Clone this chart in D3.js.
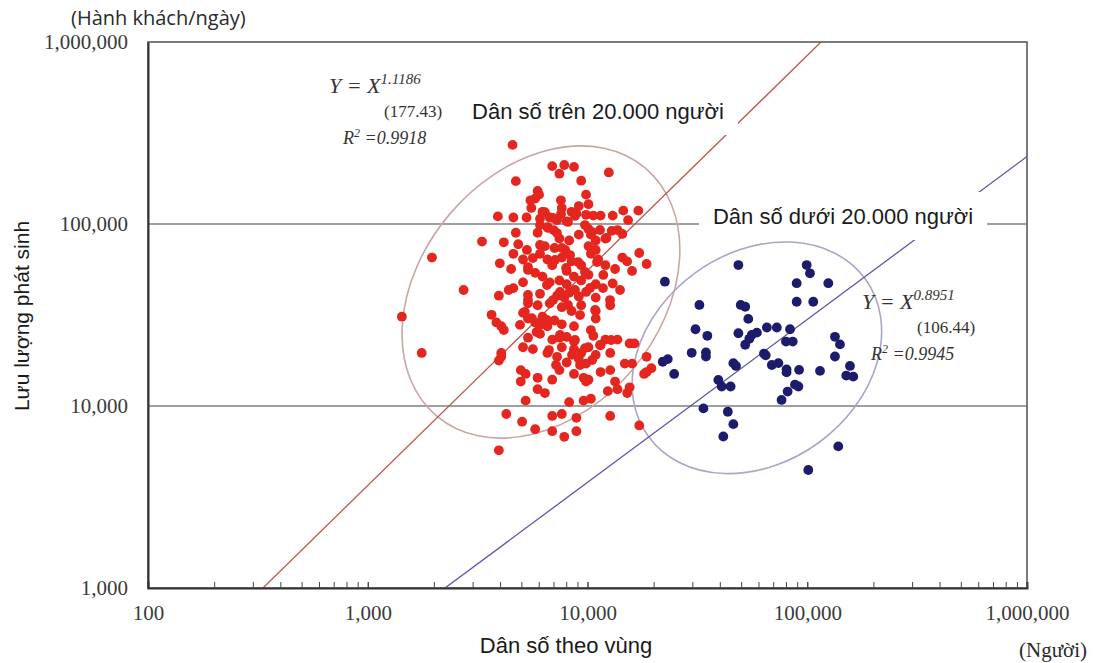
<!DOCTYPE html>
<html><head><meta charset="utf-8">
<script src="https://cdn.jsdelivr.net/npm/d3@7"></script>
<style>
html,body{margin:0;padding:0;background:#fff;}
svg{display:block;}
</style></head><body>
<svg id="chart" width="1096" height="663"></svg>
<script>
// Areas with population above 20,000: [population, trips per day]
const over20kGroup = [
[4560,272000],[4720,172000],[6910,208000],[7840,211000],[8680,206000],[7450,189000],[9360,173000],[12500,192000],
[5930,152000],[5780,138000],[5500,135000],[6020,145000],[7570,135000],[7640,122500],[9130,125500],[9850,145000],[10100,128500],[5550,122500],[6240,116700],[8460,116700],[8900,114000],[11470,111200],[13020,111200],[14550,118400],[17030,118400],[3910,110100],[4600,108600],[5280,108600],[6080,107000],[6730,108600],[7270,105000],[8040,103500],[9850,112300],[10630,111200],[15300,105000],
[6080,98600],[6570,96200],[5930,89500],[7010,92600],[4720,89500],[4160,79300],[3310,80100],[4840,77400],[7450,83200],[8250,81200],[9130,87400],[10100,93900],[10360,87400],[10900,81200],[12060,83200],[12880,91700],[13690,92600],[14400,88200],[10100,75600],[10900,72000],[17200,69300],[18570,60300],[6400,75600],[7080,73800],[7920,72000],[5300,72000],[4600,68600],[5090,63800],[3990,60800],[1960,65400],
[6080,68600],[6570,63800],[6910,59400],[7640,65400],[8460,62300],[9360,59400],[8040,55200],[10360,68600],[11180,63800],[12060,59400],[13350,56600],[14400,65400],[15150,62300],[15950,55200],[4490,56600],[5360,58000],[5780,53900],[6240,51400],[6730,47800],[7450,48950],[8040,46650],[8680,51400],[9360,48950],[10100,52600],[10900,46650],[11760,44440],[13020,47100],[5090,47800],[4600,44440],[4380,43400],[2730,43400],
[3950,40360],[5360,40750],[6080,41350],[7270,40360],[7840,39400],[8250,41950],[9130,39970],[9850,42350],[10900,39400],[5360,36640],[5930,35770],[6730,36640],[7640,34910],[8460,33270],[9360,35770],[10900,33270],[12690,35770],[3660,31700],[3850,28780],[5090,32480],[5360,30210],[5780,28780],[6240,30950],[6570,27430],[7080,29490],[7640,28100],[8680,27430],[10900,30210],[10360,26140],[1430,30950],
[4050,27430],[4160,26140],[5360,23730],[6080,24900],[6910,23160],[7450,23730],[8040,23960],[8680,22610],[10630,24310],[12060,23160],[13690,23160],[15550,22070],[16350,22070],[5090,21030],[5640,20530],[6570,19560],[7640,21030],[8680,20530],[9360,19560],[10100,21030],[11470,21540],[12690,19560],[4050,19560],[3950,17760],[4050,18640],[7270,18640],[8040,17340],[9130,18200],[9850,17100],[10900,19100],[14780,17100],[15950,17100],[18570,18640],[19530,16130],[18570,15370],[1760,19560],
[4970,15750],[5230,15000],[5930,14290],[6910,13950],[7450,15750],[8680,15000],[9600,14290],[10100,13950],[11470,15370],[12690,15750],[4970,13620],[5930,12370],[6400,11780],[9850,13620],[13350,13620],[13690,12370],[12370,12070],[15550,12670],[18100,15000],[5230,10700],[8250,10500],[9600,10700],[10360,10960],[15150,11780],
[4270,9040],[5040,8200],[5780,7450],[6910,8820],[6910,7270],[7640,9040],[7840,6770],[8900,8610],[8900,7270],[12690,8820],[17200,7820],[3950,5710],
[6400,116000],[6970,108000],[7580,113500],[8150,102600],[8770,110700],[6610,95100],[7260,89200],[9740,98700],[10500,90300],[11400,92700],
[12200,83800],[7650,73800],[8330,67500],[9060,61800],[7990,57300],[7110,63400],[9740,54500],[10500,72000],[11050,61800],[11800,52500],
[6080,76700],[5640,65000],[5360,55900],[6540,46200],[7500,42300],[8770,43400],[10270,44500],[6970,38200],[8150,35900],[5190,32900],
[5580,30400],[6080,27900],[6540,29700],[5870,25500],[5360,38200],[4930,27900],[9250,31600],[10830,33700],[8770,23050],[9740,20800],
[8500,19100],[9250,16800],[10500,17900],[11400,21650],[12800,23050],[7500,24550],[6680,20300],[7190,16800],[12660,38200],[14060,43400]
];

// Areas with population below 20,000: [population, trips per day]
const under20kGroup = [
[22500,48200],[48600,59500],[99400,59500],[102900,53600],[89500,47300],[124700,47300],[89500,37400],[106500,37400],
[32300,35900],[49800,35900],[52200,35100],[53900,30100],[31000,26400],[35100,24300],[48600,25100],[55900,24600],
[59000,25300],[54500,23400],[52200,21700],[65500,27000],[72700,27000],[83500,26400],[80000,22600],[85900,22600],
[133700,24000],[140900,21800],[133700,18700],[29800,19600],[34600,19700],[34600,18700],[63500,19400],[64700,19000],
[46100,17200],[47400,16600],[22000,17500],[23200,18100],[24800,15000],[69000,16800],[73900,17200],[80500,15900],
[80500,15300],[91800,15800],[114300,15600],[156500,16600],[150500,14700],[162000,14500],[39400,13900],[40800,12800],
[44800,12800],[87900,13100],[91100,12800],[81400,12000],[76400,10800],[33700,9700],[43500,9300],[46100,7950],
[41500,6800],[138400,6000],[101100,4450]
];

// Power-law fit lines Y = c * X^k
const fitExponents = [1.1814, 0.8951];
const fitCoefficients = [1.045, 1.0];
// Centres of the group ellipses [population, trips]
const groupCentres = [[6140, 42300], [59000, 18400]];

const xTickValues = [100, 1000, 10000, 100000, 1000000];
const xTickLabels = ["100", "1,000", "10,000", "100,000", "1,000,000"];
const yTickValues = [1000, 10000, 100000, 1000000];
const yTickLabels = ["1,000", "10,000", "100,000", "1,000,000"];
const gridValues = [10000, 100000];
const groupLabels = ["Dân số trên 20.000 người", "Dân số dưới 20.000 người"];

const plot = {left: 148, right: 1027, top: 42, bottom: 588};
const x = d3.scaleLog().domain([100, 1e6]).range([plot.left, plot.right]);
const y = d3.scaleLog().domain([1e3, 1e6]).range([plot.bottom, plot.top]);

const svg = d3.select("#chart");
svg.append("rect").attr("width", 1096).attr("height", 663).attr("fill", "#fff");

svg.append("defs").append("clipPath").attr("id", "plotClip")
  .append("rect").attr("x", plot.left).attr("y", plot.top)
  .attr("width", plot.right - plot.left).attr("height", plot.bottom - plot.top);

// horizontal grid lines
svg.append("g").selectAll("line").data(gridValues).join("line")
  .attr("x1", plot.left).attr("x2", plot.right)
  .attr("y1", d => y(d)).attr("y2", d => y(d))
  .attr("stroke", "#7f7f7f").attr("stroke-width", 1.4);

// group ellipses
const ellipseShapes = [
  {rx: 162, ry: 120, rot: -50, stroke: "#c9a6a2"},
  {rx: 134, ry: 105, rot: -36, stroke: "#aaa6c6"}
];
svg.append("g").selectAll("ellipse").data(groupCentres).join("ellipse")
  .attr("cx", 0).attr("cy", 0)
  .attr("rx", (d, i) => ellipseShapes[i].rx).attr("ry", (d, i) => ellipseShapes[i].ry)
  .attr("transform", (d, i) => `translate(${x(d[0])},${y(d[1])}) rotate(${ellipseShapes[i].rot})`)
  .attr("fill", "none").attr("stroke", (d, i) => ellipseShapes[i].stroke).attr("stroke-width", 1.6);

// fit lines
const fitColors = ["#c0564e", "#5b57a8"];
const lineGen = d3.line().x(d => x(d[0])).y(d => y(d[1]));
svg.append("g").attr("clip-path", "url(#plotClip)").selectAll("path").data(fitExponents).join("path")
  .attr("d", (k, i) => lineGen([100, 1e6].map(p => [p, fitCoefficients[i] * Math.pow(p, k)])))
  .attr("fill", "none").attr("stroke", (d, i) => fitColors[i]).attr("stroke-width", 1.3);

// group labels on white boxes
const labelPos = [[598, 111], [843, 216]];
const labelG = svg.append("g");
groupLabels.forEach((t, i) => {
  const g = labelG.append("g");
  const box = g.append("rect").attr("fill", "#fff");
  const txt = g.append("text").attr("x", labelPos[i][0]).attr("y", labelPos[i][1])
    .attr("text-anchor", "middle").attr("dominant-baseline", "central")
    .attr("font-family", "Liberation Sans, Arial, sans-serif").attr("font-size", 22)
    .attr("fill", "#1a1a1a").text(t);
  const b = txt.node().getBBox();
  box.attr("x", b.x - 14).attr("y", labelPos[i][1] - 24)
     .attr("width", b.width + 28).attr("height", 48);
});

// regression equations
function equation(x0, yBase, expo, coef, r2, rOffset) {
  const g = svg.append("g").attr("fill", "#333").attr("font-family", "Liberation Serif, Times New Roman, serif");
  const t = g.append("text").attr("x", x0).attr("y", yBase).attr("font-style", "italic").attr("font-size", 22);
  t.append("tspan").text("Y = X");
  t.append("tspan").attr("font-size", 15).attr("dy", -9).text(expo);
  g.append("text").attr("x", x0 + 55).attr("y", yBase + 24).attr("font-size", 17).text(coef);
  const r = g.append("text").attr("x", x0 + rOffset).attr("y", yBase + 51).attr("font-style", "italic").attr("font-size", 18);
  r.append("tspan").text("R");
  r.append("tspan").attr("font-size", 12).attr("dy", -7).text("2");
  r.append("tspan").attr("dy", 7).text(" =" + r2);
}
equation(329, 93, "1.1186", "(177.43)", "0.9918", 14);
equation(862, 309, "0.8951", "(106.44)", "0.9945", 9);

// data points
svg.append("g").selectAll("circle").data(over20kGroup).join("circle")
  .attr("cx", d => x(d[0])).attr("cy", d => y(d[1])).attr("r", 4.9)
  .attr("fill", "#e4261f");
svg.append("g").selectAll("circle").data(under20kGroup).join("circle")
  .attr("cx", d => x(d[0])).attr("cy", d => y(d[1])).attr("r", 4.9)
  .attr("fill", "#1d1b6c");

// frame
svg.append("rect").attr("x", plot.left).attr("y", plot.top)
  .attr("width", plot.right - plot.left).attr("height", plot.bottom - plot.top)
  .attr("fill", "none").attr("stroke", "#5a5a5a").attr("stroke-width", 1.6);

// x axis: minor ticks inside, decade labels below
const minorTicks = [];
[100, 1000, 10000, 100000].forEach(d => { for (let m = 1; m <= 10; m++) minorTicks.push(d * m); });
svg.append("g").attr("transform", `translate(0,${plot.bottom})`)
  .call(d3.axisBottom(x).tickValues(minorTicks).tickSize(-6).tickFormat(""))
  .call(g => g.select(".domain").attr("stroke", "#333").attr("stroke-width", 2))
  .call(g => g.selectAll(".tick line").attr("stroke", "#444").attr("stroke-width", 1));

svg.append("g").attr("transform", `translate(0,${plot.bottom})`)
  .call(d3.axisBottom(x).tickValues(xTickValues).tickSize(0).tickPadding(17)
        .tickFormat((d, i) => xTickLabels[i]))
  .call(g => g.select(".domain").remove())
  .call(g => g.selectAll("text").attr("font-family", "Liberation Serif, Times New Roman, serif")
        .attr("font-size", 21).attr("fill", "#3a3a3a"));

// y axis labels
svg.append("g").attr("transform", `translate(${plot.left},0)`)
  .call(d3.axisLeft(y).tickValues(yTickValues).tickSize(0).tickPadding(20)
        .tickFormat((d, i) => yTickLabels[i]))
  .call(g => g.select(".domain").attr("stroke", "#333").attr("stroke-width", 2))
  .call(g => g.selectAll("text").attr("font-family", "Liberation Serif, Times New Roman, serif")
        .attr("font-size", 21).attr("fill", "#3a3a3a"));

// axis titles and units
svg.append("text").attr("x", 566).attr("y", 653).attr("text-anchor", "middle")
  .attr("font-family", "Liberation Sans, Arial, sans-serif").attr("font-size", 22).attr("fill", "#1a1a1a")
  .text("Dân số theo vùng");
svg.append("text").attr("transform", "translate(29,316) rotate(-90)").attr("text-anchor", "middle")
  .attr("font-family", "Liberation Sans, Arial, sans-serif").attr("font-size", 21).attr("fill", "#1a1a1a")
  .text("Lưu lượng phát sinh");
svg.append("text").attr("x", 71).attr("y", 25)
  .attr("font-family", "Open Sans, sans-serif").attr("font-size", 20).attr("fill", "#2a2a2a")
  .text("(Hành khách/ngày)");
svg.append("text").attr("x", 1087).attr("y", 657).attr("text-anchor", "end")
  .attr("font-family", "Liberation Serif, Times New Roman, serif").attr("font-size", 21).attr("fill", "#2a2a2a")
  .text("(Người)");
</script>
</body></html>
